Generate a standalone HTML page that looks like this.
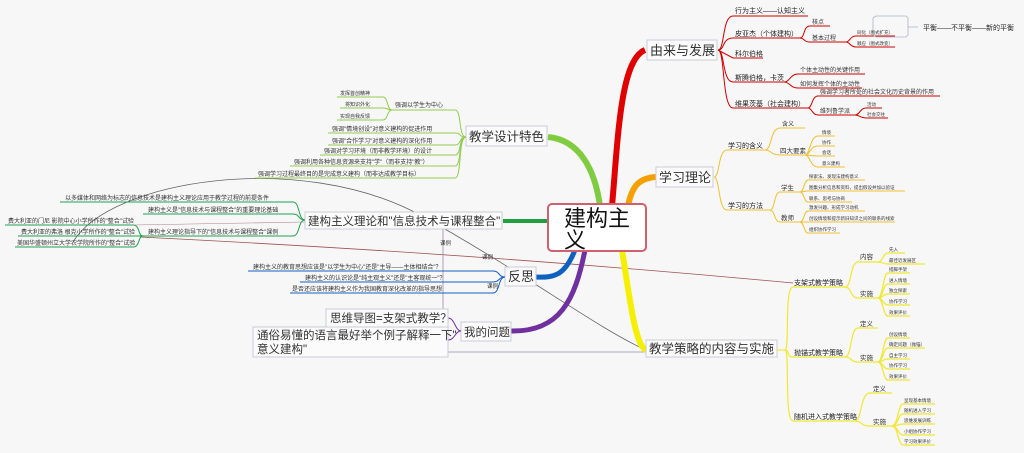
<!DOCTYPE html>
<html><head><meta charset="utf-8"><style>
html,body{margin:0;padding:0;background:#f7f7f7;}
svg{display:block;font-family:"Liberation Sans","Noto Sans CJK SC",sans-serif;}
.s{font-size:6px;fill:#333;}
.m{font-size:7px;fill:#222;}
.b{font-size:13px;fill:#333;}
.bx{fill:#fbfbfb;stroke:#c8ccd8;stroke-width:1;}
</style></head><body>
<svg width="1024" height="453" viewBox="0 0 1024 453" xmlns="http://www.w3.org/2000/svg">
<rect width="1024" height="453" fill="#f7f7f7"/>

<!-- cross connectors -->
<path d="M73,242 C110,180 300,150 420,215 C520,270 600,330 646,350" fill="none" stroke="#666" stroke-width="0.8"/>
<path d="M140,237 C400,250 600,265 793,283" fill="none" stroke="#a05050" stroke-width="0.8"/>
<path d="M443,222 L443,352 L650,352" fill="none" stroke="#9a8aaa" stroke-width="0.8"/>
<text x="440" y="245" class="s" style="font-size:5.5px">课例</text>
<text x="482" y="259" class="s" style="font-size:5.5px">课例</text>
<text x="487" y="288" class="s" style="font-size:5.5px">课例</text>

<!-- main branches -->
<path d="M612,206 C618,140 620,60 645,50" fill="none" stroke="#e00000" stroke-width="6"/>
<path d="M628,206 C632,185 640,178 656,177" fill="none" stroke="#f5a000" stroke-width="6"/>
<path d="M622,250 C630,300 635,345 646,350" fill="none" stroke="#f5f000" stroke-width="6"/>
<path d="M600,206 C595,170 580,140 548,137" fill="none" stroke="#80cc40" stroke-width="6"/>
<path d="M548,221 L503,221" fill="none" stroke="#20a040" stroke-width="4"/>
<path d="M575,250 C565,275 555,278 535,277" fill="none" stroke="#1060c0" stroke-width="5"/>
<path d="M585,250 C575,300 560,332 511,331" fill="none" stroke="#7030a0" stroke-width="5"/>

<!-- central -->
<rect x="548" y="204" width="98" height="47" rx="4" fill="#fff" stroke="#d06070" stroke-width="2"/>
<text x="564" y="226" style="font-size:22px;fill:#111">建构主</text>
<text x="564" y="248" style="font-size:22px;fill:#111">义</text>

<!-- RED subtree -->
<rect x="647" y="40" width="70" height="20" class="bx"/>
<text x="650" y="55" class="b">由来与发展</text>
<g fill="none" stroke="#d00000" stroke-width="1">
<path d="M718,50 C725,50 722,16 733,16 L808,16"/>
<path d="M718,50 C725,50 722,38 733,38 L800,38"/>
<path d="M718,50 L733,58 L763,58"/>
<path d="M718,50 C725,50 722,82 733,82 L784,82"/>
<path d="M718,50 C725,50 722,108 733,108 L808,108"/>
<path d="M800,38 C805,38 803,26 810,26 L830,26"/>
<path d="M800,38 C805,38 803,42 810,42 L846,42"/>
<path d="M846,42 C850,42 850,36 856,36 L895,36"/>
<path d="M846,42 C850,42 850,47 856,47 L895,47"/>
<path d="M784,82 C790,82 790,74 798,74 L865,74"/>
<path d="M784,82 C790,82 790,88 798,88 L862,88"/>
<path d="M808,108 C812,108 812,96 818,96 L940,96"/>
<path d="M808,108 C812,108 812,115 818,115 L855,115"/>
<path d="M855,115 C860,115 860,108 866,108 L882,108"/>
<path d="M855,115 C860,115 860,118 866,118 L888,118"/>
</g>
<path d="M876,16 L873,18 L873,35 L876,37 L906,37 L908,35 L908,18 L906,16 Z" fill="none" stroke="#aab4cc" stroke-width="0.8"/>
<path d="M908,27 L918,27" stroke="#aab4cc" stroke-width="0.8"/>
<text x="735" y="13" class="m">行为主义——认知主义</text>
<text x="735" y="36" class="m">皮亚杰（个体建构）</text>
<text x="812" y="24" class="s">核点</text>
<text x="812" y="40" class="s">基本过程</text>
<text x="857" y="34" class="s" style="font-size:4.5px">同化（图式扩充）</text>
<text x="857" y="45" class="s" style="font-size:4.5px">顺应（图式改变）</text>
<text x="923" y="30" class="m">平衡——不平衡——新的平衡</text>
<text x="735" y="56" class="m">科尔伯格</text>
<text x="735" y="80" class="m">斯腾伯格，卡茨</text>
<text x="800" y="72" class="s">个体主动性的关键作用</text>
<text x="800" y="86" class="s">如何发挥个体的主动性</text>
<text x="735" y="106" class="m">维果茨基（社会建构）</text>
<text x="820" y="94" class="s">强调学习者所处的社会文化历史背景的作用</text>
<text x="820" y="113" class="s">维列鲁学派</text>
<text x="867" y="106" class="s" style="font-size:4.5px">活动</text>
<text x="867" y="116" class="s" style="font-size:4.5px">社会交往</text>

<!-- ORANGE subtree -->
<rect x="656" y="167" width="57" height="20" class="bx"/>
<text x="659" y="182" class="b">学习理论</text>
<g fill="none" stroke="#f0c030" stroke-width="1">
<path d="M714,177 C720,177 718,150 727,150 L765,150"/>
<path d="M714,177 C720,177 718,210 727,210 L770,210"/>
<path d="M765,150 C772,150 770,128 780,128 L805,128"/>
<path d="M765,150 C772,150 770,155 780,155 L805,155"/>
<path d="M805,155 C810,155 810,136 818,136 L835,136"/>
<path d="M805,155 C810,155 810,146 818,146 L835,146"/>
<path d="M805,155 C810,155 810,156 818,156 L835,156"/>
<path d="M805,155 C810,155 810,167 818,167 L845,167"/>
<path d="M770,210 C775,210 774,192 780,192 L800,192"/>
<path d="M770,210 C775,210 774,222 780,222 L800,222"/>
<path d="M800,192 C804,192 804,180 808,180 L865,180"/>
<path d="M800,192 C804,192 804,191 808,191 L905,191"/>
<path d="M800,192 C804,192 804,202 808,202 L852,202"/>
<path d="M800,222 C804,222 804,211 808,211 L865,211"/>
<path d="M800,222 C804,222 804,222 808,222 L895,222"/>
<path d="M800,222 C804,222 804,233 808,233 L840,233"/>
</g>
<text x="728" y="148" class="m">学习的含义</text>
<text x="782" y="126" class="s">含义</text>
<text x="780" y="153" class="s" style="font-size:6.5px">四大要素</text>
<text x="822" y="134" class="s" style="font-size:4.5px">情境</text>
<text x="822" y="144" class="s" style="font-size:4.5px">协作</text>
<text x="822" y="154" class="s" style="font-size:4.5px">会话</text>
<text x="822" y="165" class="s" style="font-size:4.5px">意义建构</text>
<text x="728" y="208" class="m">学习的方法</text>
<text x="781" y="190" class="s" style="font-size:6.5px">学生</text>
<text x="781" y="220" class="s" style="font-size:6.5px">教师</text>
<g class="s" style="font-size:4.5px">
<text x="809" y="178">探索法、发现法建构意义</text>
<text x="809" y="189">图集分析信息和资料，提出假设并加以验证</text>
<text x="809" y="200">联系、思考与协商</text>
<text x="809" y="209">激发兴趣、形成学习动机</text>
<text x="809" y="220">创设情境和提示新旧知识之间的联系的线索</text>
<text x="809" y="231">组织协作学习</text>
</g>

<!-- YELLOW subtree -->
<rect x="646" y="340" width="131" height="17" class="bx"/>
<text x="649" y="353" style="font-size:12.5px;fill:#333">教学策略的内容与实施</text>
<g fill="none" stroke="#f0e830" stroke-width="1.2">
<path d="M777,350 L785,350"/>
<path d="M785,350 C790,350 784,287 793,287 L845,287"/>
<path d="M785,350 C790,350 786,357 793,357 L845,357"/>
<path d="M785,350 C790,350 784,421 793,421 L855,421"/>
<path d="M845,287 C852,287 850,262 858,262 L878,262"/>
<path d="M845,287 C852,287 850,298 858,298 L878,298"/>
<path d="M878,262 C883,262 883,253 888,253 L905,253"/>
<path d="M878,262 C883,262 883,264 888,264 L925,264"/>
<path d="M878,298 C883,298 883,273 888,273 L910,273"/>
<path d="M878,298 C883,298 883,284 888,284 L910,284"/>
<path d="M878,298 C883,298 883,294 888,294 L910,294"/>
<path d="M878,298 C883,298 883,305 888,305 L910,305"/>
<path d="M878,298 C883,298 883,316 888,316 L910,316"/>
<path d="M845,357 C852,357 850,328 858,328 L878,328"/>
<path d="M845,357 C852,357 850,362 858,362 L878,362"/>
<path d="M878,362 C883,362 883,338 888,338 L910,338"/>
<path d="M878,362 C883,362 883,348 888,348 L925,348"/>
<path d="M878,362 C883,362 883,359 888,359 L910,359"/>
<path d="M878,362 C883,362 883,369 888,369 L910,369"/>
<path d="M878,362 C883,362 883,380 888,380 L910,380"/>
<path d="M855,421 C862,421 860,393 870,393 L892,393"/>
<path d="M855,421 C862,421 860,426 870,426 L892,426"/>
<path d="M892,426 C898,426 898,404 903,404 L935,404"/>
<path d="M892,426 C898,426 898,414 903,414 L935,414"/>
<path d="M892,426 C898,426 898,424 903,424 L935,424"/>
<path d="M892,426 C898,426 898,435 903,435 L935,435"/>
<path d="M892,426 C898,426 898,445 903,445 L935,445"/>
</g>
<text x="794" y="285" class="m">支架式教学策略</text>
<text x="794" y="355" class="m">抛锚式教学策略</text>
<text x="794" y="419" class="m">随机进入式教学策略</text>
<text x="860" y="259" class="s" style="font-size:6.5px">内容</text>
<text x="860" y="296" class="s" style="font-size:6.5px">实施</text>
<text x="860" y="326" class="s" style="font-size:6.5px">定义</text>
<text x="860" y="360" class="s" style="font-size:6.5px">实施</text>
<text x="873" y="391" class="s" style="font-size:6.5px">定义</text>
<text x="873" y="424" class="s" style="font-size:6.5px">实施</text>
<g class="s" style="font-size:4.5px">
<text x="889" y="251">先入</text><text x="889" y="262">最佳近发展区</text>
<text x="889" y="271">搭脚手架</text><text x="889" y="282">进入情境</text><text x="889" y="292">独立探索</text><text x="889" y="303">协作学习</text><text x="889" y="314">效果评价</text>
<text x="889" y="336">创设情境</text><text x="889" y="346">确定问题（抛锚）</text><text x="889" y="357">自主学习</text><text x="889" y="367">协作学习</text><text x="889" y="378">效果评价</text>
<text x="904" y="402">呈现基本情境</text><text x="904" y="412">随机进入学习</text><text x="904" y="422">思维发展训练</text><text x="904" y="433">小组协作学习</text><text x="904" y="443">学习效果评价</text>
</g>

<!-- GREEN (教学设计特色) -->
<rect x="466" y="126" width="81" height="20" class="bx"/>
<text x="469" y="141" class="b" style="font-size:12.5px">教学设计特色</text>
<g fill="none" stroke="#90cc50" stroke-width="1">
<path d="M466,137 C458,137 462,110 455,110 L392,110"/>
<path d="M466,137 C458,137 462,133 455,133 L328,133"/>
<path d="M466,137 C458,137 462,145 455,145 L328,145"/>
<path d="M466,137 C458,137 462,155 455,155 L320,155"/>
<path d="M466,137 C458,137 462,166 455,166 L290,166"/>
<path d="M466,137 C458,137 462,178 455,178 L255,178"/>
<path d="M392,110 C387,110 388,97 383,97 L337,97"/>
<path d="M392,110 C387,110 388,108 383,108 L340,108"/>
<path d="M392,110 C387,110 388,120 383,120 L337,120"/>
</g>
<text x="395" y="107" class="s">强调以学生为中心</text>
<text x="340" y="95" class="s" style="font-size:5px">发挥首创精神</text>
<text x="345" y="106" class="s" style="font-size:5px">将知识外化</text>
<text x="340" y="118" class="s" style="font-size:5px">实现自我反馈</text>
<text x="332" y="131" class="s">强调"情境创设"对意义建构的促进作用</text>
<text x="332" y="143" class="s">强调"合作学习"对意义建构的深化作用</text>
<text x="324" y="153" class="s">强调对学习环境（而非教学环境）的设计</text>
<text x="294" y="164" class="s">强调利用各种信息资源来支持"学"（而非支持"教"）</text>
<text x="258" y="176" class="s">强调学习过程最终目的是完成意义建构（而非达成教学目标）</text>

<!-- DARK GREEN -->
<rect x="305" y="212" width="197" height="17" class="bx"/>
<text x="308" y="225" style="font-size:11.5px;fill:#333">建构主义理论和"信息技术与课程整合"</text>
<g fill="none" stroke="#20a050" stroke-width="1">
<path d="M305,220 C298,220 300,202 293,202 L60,202"/>
<path d="M305,220 C298,220 300,214 293,214 L143,214"/>
<path d="M305,220 C298,220 300,236 293,236 L143,236"/>
<path d="M143,236 C138,236 140,225 133,225 L5,225"/>
<path d="M143,236 C138,236 140,236 133,236 L18,236"/>
<path d="M143,236 C138,236 140,247 133,247 L15,247"/>
</g>
<path d="M133,225 L305,222" stroke="#b08090" stroke-width="0.6"/>
<text x="65" y="200" class="s">以多媒体和网络为标志的信息技术是建构主义理论应用于教学过程的前提条件</text>
<text x="148" y="212" class="s">建构主义是"信息技术与课程整合"的重要理论基础</text>
<text x="148" y="234" class="s">建构主义理论指导下的"信息技术与课程整合"课例</text>
<text x="8" y="223" class="s">费大利亚的门尼 影院中心小学所作的"整合"试验</text>
<text x="21" y="234" class="s">费大利亚的弗洛 根克小学所作的"整合"试验</text>
<text x="17" y="245" class="s">美国华盛顿州立大学农学院所作的"整合"试验</text>

<!-- BLUE 反思 -->
<rect x="505" y="267" width="31" height="19" class="bx"/>
<text x="508" y="281" class="b">反思</text>
<g fill="none" stroke="#1060c0" stroke-width="1">
<path d="M505,277 C498,277 500,271 493,271 L248,271"/>
<path d="M505,277 C498,277 500,282 493,282 L300,282"/>
<path d="M505,277 C498,277 500,293 493,293 L290,293"/>
</g>
<text x="253" y="269" class="s">建构主义的教育思想应该是"以学生为中心"还是"主导——主体相结合"？</text>
<text x="305" y="280" class="s">建构主义的认识论是"纯主观主义"还是"主客观统一"？</text>
<text x="292" y="291" class="s">是否还应该将建构主义作为我国教育深化改革的指导思想</text>

<!-- PURPLE 我的问题 -->
<rect x="461" y="322" width="50" height="19" class="bx"/>
<text x="464" y="336" style="font-size:11.5px;fill:#333">我的问题</text>
<path d="M461,331 C455,331 455,318 448,318" fill="none" stroke="#7030a0" stroke-width="1"/>
<path d="M461,331 C455,331 455,340 448,340" fill="none" stroke="#7030a0" stroke-width="1"/>
<rect x="326" y="309" width="122" height="18" class="bx"/>
<text x="330" y="322" style="font-size:11.5px;fill:#333">思维导图=支架式教学？</text>
<rect x="253" y="327" width="195" height="30" class="bx"/>
<text x="257" y="339" style="font-size:11.5px;fill:#333">通俗易懂的语言最好举个例子解释一下"</text>
<text x="257" y="353" style="font-size:11.5px;fill:#333">意义建构"</text>
</svg>
</body></html>
